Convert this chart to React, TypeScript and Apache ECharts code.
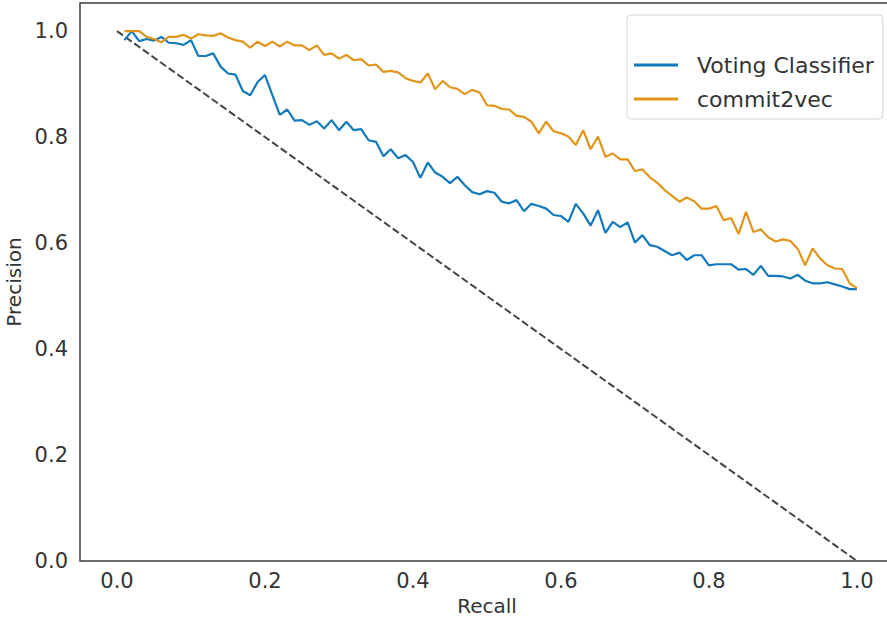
import React, { useEffect, useRef } from "react";
import * as echarts from "echarts";

const recall = [
  0.01, 0.02, 0.03, 0.04, 0.05, 0.06, 0.07, 0.08, 0.09, 0.10,
  0.11, 0.12, 0.13, 0.14, 0.15, 0.16, 0.17, 0.18, 0.19, 0.20,
  0.21, 0.22, 0.23, 0.24, 0.25, 0.26, 0.27, 0.28, 0.29, 0.30,
  0.31, 0.32, 0.33, 0.34, 0.35, 0.36, 0.37, 0.38, 0.39, 0.40,
  0.41, 0.42, 0.43, 0.44, 0.45, 0.46, 0.47, 0.48, 0.49, 0.50,
  0.51, 0.52, 0.53, 0.54, 0.55, 0.56, 0.57, 0.58, 0.59, 0.60,
  0.61, 0.62, 0.63, 0.64, 0.65, 0.66, 0.67, 0.68, 0.69, 0.70,
  0.71, 0.72, 0.73, 0.74, 0.75, 0.76, 0.77, 0.78, 0.79, 0.80,
  0.81, 0.82, 0.83, 0.84, 0.85, 0.86, 0.87, 0.88, 0.89, 0.90,
  0.91, 0.92, 0.93, 0.94, 0.95, 0.96, 0.97, 0.98, 0.99, 1.00,
];

const votingPrecision = [
  0.983, 1.0, 0.981, 0.985, 0.982, 0.989, 0.978, 0.977, 0.974, 0.983,
  0.953, 0.953, 0.958, 0.933, 0.920, 0.918, 0.887, 0.879, 0.904, 0.917,
  0.879, 0.842, 0.852, 0.831, 0.832, 0.823, 0.830, 0.816, 0.832, 0.813,
  0.829, 0.813, 0.815, 0.794, 0.791, 0.764, 0.777, 0.760, 0.766, 0.753,
  0.723, 0.752, 0.733, 0.725, 0.713, 0.725, 0.709, 0.696, 0.692, 0.698,
  0.695, 0.678, 0.675, 0.681, 0.660, 0.674, 0.670, 0.665, 0.653, 0.651,
  0.640, 0.674, 0.656, 0.633, 0.662, 0.619, 0.640, 0.630, 0.639, 0.601,
  0.615, 0.596, 0.593, 0.585, 0.577, 0.582, 0.568, 0.577, 0.577, 0.558,
  0.560, 0.560, 0.560, 0.550, 0.551, 0.540, 0.557, 0.538, 0.538, 0.537,
  0.533, 0.540, 0.529, 0.524, 0.524, 0.526, 0.522, 0.518, 0.513, 0.513,
];

const commit2vecPrecision = [
  1.0, 1.0, 1.0, 0.989, 0.985, 0.979, 0.989, 0.989, 0.993, 0.986,
  0.994, 0.992, 0.991, 0.996, 0.988, 0.983, 0.980, 0.969, 0.980, 0.972,
  0.980, 0.971, 0.980, 0.973, 0.973, 0.964, 0.973, 0.955, 0.958, 0.948,
  0.955, 0.945, 0.947, 0.935, 0.937, 0.923, 0.925, 0.922, 0.911, 0.906,
  0.903, 0.920, 0.890, 0.906, 0.894, 0.891, 0.881, 0.889, 0.884, 0.860,
  0.859, 0.853, 0.852, 0.840, 0.838, 0.829, 0.807, 0.829, 0.811, 0.807,
  0.801, 0.785, 0.813, 0.777, 0.801, 0.763, 0.769, 0.758, 0.758, 0.736,
  0.739, 0.724, 0.714, 0.700, 0.689, 0.678, 0.686, 0.679, 0.665, 0.665,
  0.670, 0.643, 0.647, 0.617, 0.659, 0.621, 0.626, 0.611, 0.603, 0.607,
  0.604, 0.589, 0.558, 0.590, 0.571, 0.558, 0.552, 0.551, 0.524, 0.515,
];

const diagonalRecall = [0.0, 1.0];
const diagonalPrecision = [1.0, 0.0];

const tickValues = [0.0, 0.2, 0.4, 0.6, 0.8, 1.0];
const seriesNames = ["Voting Classifier", "commit2vec"];

const FONT = "DejaVu Sans";
const TEXT = "#333333";
const BLUE = "#1279bd";
const ORANGE = "#e1951a";

export default function App() {
  const ref = useRef<HTMLDivElement>(null);

  useEffect(() => {
    if (!ref.current) return;
    const chart = echarts.init(ref.current, undefined, { renderer: "svg" });
    const zip = (xs: number[], ys: number[]) => xs.map((x, i) => [x, ys[i]]);

    chart.setOption({
      animation: false,
      backgroundColor: "#ffffff",
      textStyle: { fontFamily: FONT },
      grid: {
        left: 80,
        top: 3,
        width: 814,
        height: 558,
        show: true,
        borderColor: "#3d3d3d",
        borderWidth: 1.5,
        backgroundColor: "#ffffff",
        containLabel: false,
        outerBoundsMode: "none",
      },
      xAxis: {
        type: "value",
        min: -0.05,
        max: 1.05,
        axisLine: { show: false },
        axisTick: { show: false },
        splitLine: { show: false },
        axisLabel: {
          customValues: tickValues,
          formatter: (v: number) => v.toFixed(1),
          fontSize: 21,
          color: TEXT,
          fontFamily: FONT,
          margin: 9,
        },
        name: "Recall",
        nameLocation: "middle",
        nameGap: 33,
        nameTextStyle: { fontSize: 20, color: TEXT, fontFamily: FONT },
      },
      yAxis: {
        type: "value",
        min: 0,
        max: 1.053,
        axisLine: { show: false },
        axisTick: { show: false },
        splitLine: { show: false },
        axisLabel: {
          customValues: tickValues,
          formatter: (v: number) => v.toFixed(1),
          fontSize: 21,
          color: TEXT,
          fontFamily: FONT,
          margin: 12,
        },
        name: "Precision",
        nameLocation: "middle",
        nameGap: 53,
        nameTextStyle: { fontSize: 20, color: TEXT, fontFamily: FONT },
      },
      legend: {
        data: seriesNames,
        left: 627,
        top: 15,
        orient: "vertical",
        backgroundColor: "#ffffff",
        borderColor: "#d5d5d5",
        borderWidth: 1,
        borderRadius: 4,
        padding: [38, 9, 8, 7],
        itemWidth: 44,
        itemHeight: 3,
        itemGap: 10,
        icon: "rect",
        textStyle: {
          fontSize: 22,
          fontFamily: FONT,
          color: TEXT,
          lineHeight: 24,
          padding: [0, 0, 0, 14],
        },
      },
      series: [
        {
          name: "diagonal",
          type: "line",
          data: zip(diagonalRecall, diagonalPrecision),
          symbol: "none",
          lineStyle: { color: "#444444", width: 2, type: [7.4, 3.2] },
          z: 1,
        },
        {
          name: seriesNames[0],
          type: "line",
          data: zip(recall, votingPrecision),
          symbol: "none",
          color: BLUE,
          lineStyle: { color: BLUE, width: 2.2 },
          z: 2,
        },
        {
          name: seriesNames[1],
          type: "line",
          data: zip(recall, commit2vecPrecision),
          symbol: "none",
          color: ORANGE,
          lineStyle: { color: ORANGE, width: 2.2 },
          z: 3,
        },
      ],
    });

    return () => chart.dispose();
  }, []);

  return (
    <div
      style={{
        position: "absolute",
        left: 0,
        top: 0,
        width: 887,
        height: 622,
        overflow: "hidden",
        background: "#ffffff",
      }}
    >
      <div ref={ref} style={{ width: 1000, height: 622 }} />
    </div>
  );
}
